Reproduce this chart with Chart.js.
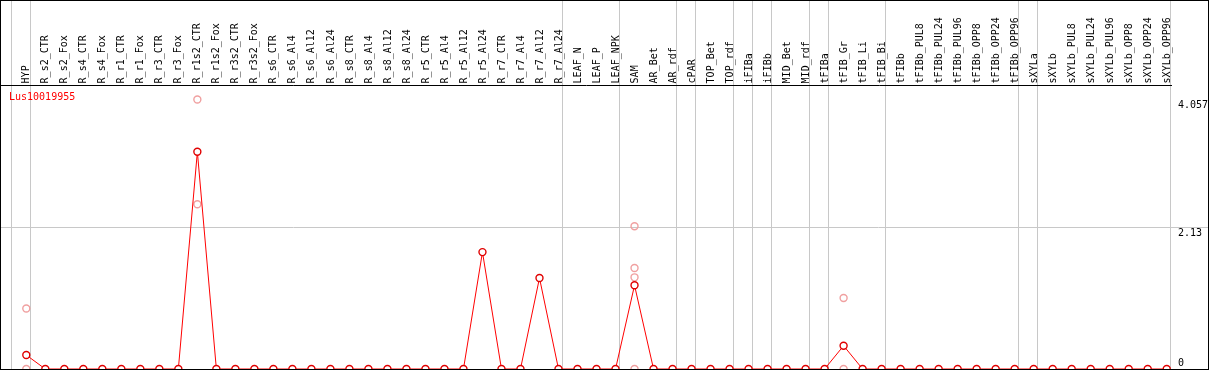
<!DOCTYPE html>
<html>
<head>
<meta charset="utf-8">
<script src="https://cdn.jsdelivr.net/npm/chart.js@4"></script>
<style>
  body { margin: 0; background: #fff; }
  #marco { width: 1209px; height: 370px; border: 1px solid #000; box-sizing: border-box; }
  canvas { display: block; }
</style>
</head>
<body>
<div id="marco"><canvas id="grafico" width="1207" height="368"></canvas></div>
<script>
// Datos del gráfico
const gen = 'Lus10019955';
const muestras = ['HYP', 'R_s2_CTR', 'R_s2_Fox', 'R_s4_CTR', 'R_s4_Fox', 'R_r1_CTR', 'R_r1_Fox', 'R_r3_CTR', 'R_r3_Fox',
    'R_r1s2_CTR', 'R_r1s2_Fox', 'R_r3s2_CTR', 'R_r3s2_Fox', 'R_s6_CTR', 'R_s6_Al4', 'R_s6_Al12', 'R_s6_Al24',
    'R_s8_CTR', 'R_s8_Al4', 'R_s8_Al12', 'R_s8_Al24', 'R_r5_CTR', 'R_r5_Al4', 'R_r5_Al12', 'R_r5_Al24',
    'R_r7_CTR', 'R_r7_Al4', 'R_r7_Al12', 'R_r7_Al24', 'LEAF_N', 'LEAF_P', 'LEAF_NPK', 'SAM', 'AR_Bet', 'AR_rdf',
    'cPAR', 'TOP_Bet', 'TOP_rdf', 'iFIBa', 'iFIBb', 'MID_Bet', 'MID_rdf', 'tFIBa', 'tFIB_Gr', 'tFIB_Li', 'tFIB_Bi',
    'tFIBb', 'tFIBb_PUL8', 'tFIBb_PUL24', 'tFIBb_PUL96', 'tFIBb_OPP8', 'tFIBb_OPP24', 'tFIBb_OPP96',
    'sXYLa', 'sXYLb', 'sXYLb_PUL8', 'sXYLb_PUL24', 'sXYLb_PUL96', 'sXYLb_OPP8', 'sXYLb_OPP24', 'sXYLb_OPP96'];

// media por muestra
const medias = [0.21, 0, 0, 0, 0, 0, 0, 0, 0,
    3.27, 0, 0, 0, 0, 0, 0, 0,
    0, 0, 0, 0, 0, 0, 0, 1.76,
    0, 0, 1.37, 0, 0, 0, 0, 1.26, 0, 0,
    0, 0, 0, 0, 0, 0, 0, 0, 0.35, 0, 0,
    0, 0, 0, 0, 0, 0, 0,
    0, 0, 0, 0, 0, 0, 0, 0];

// réplicas visibles
const repMuestra = ['HYP', 'HYP', 'R_r1s2_CTR', 'R_r1s2_CTR', 'SAM', 'SAM', 'SAM', 'SAM', 'tFIB_Gr', 'tFIB_Gr'];
const repValor = [0.91, 0, 4.057, 2.48, 2.15, 1.52, 1.38, 0, 1.07, 0];

// último índice de cada grupo (líneas verticales)
const finGrupo = [-1, 0, 28, 31, 34, 35, 37, 38, 39, 41, 42, 45, 52, 53, 60];

const ticksY = [0, 2.13, 4.057];
const etiquetasY = ['0', '2.13', '4.057'];

const xMin = -1.331, xMax = 60.225;

Chart.defaults.font.family = 'DejaVu Sans Mono';
Chart.defaults.font.size = 10;
Chart.defaults.color = '#000';

const puntosMedia = medias.map((v, i) => ({ x: i, y: v }));
const puntosRep = repValor.map((v, i) => ({ x: muestras.indexOf(repMuestra[i]), y: v }));

// sin márgenes automáticos de las etiquetas
function sinRelleno(s) {
    s.paddingLeft = 0;
    s.paddingRight = 0;
    s.paddingTop = 0;
    s.paddingBottom = 0;
}

// Texto del gen arriba a la izquierda
const tituloGen = {
    id: 'tituloGen',
    afterDraw(chart) {
        const ctx = chart.ctx;
        ctx.save();
        ctx.font = '10px "DejaVu Sans Mono"';
        ctx.fillStyle = '#ff0000';
        ctx.textBaseline = 'middle';
        ctx.fillText(gen, 8, 96);
        ctx.restore();
    }
};

new Chart(document.getElementById('grafico'), {
    type: 'line',
    data: {
        datasets: [{
            data: puntosMedia,
            borderColor: '#ff0000',
            borderWidth: 1,
            pointRadius: 3.5,
            pointBorderWidth: 1.4,
            pointBorderColor: '#e00000',
            pointBackgroundColor: '#ffffff',
            tension: 0,
            xAxisID: 'x',
            yAxisID: 'y'
        }, {
            data: puntosRep,
            showLine: false,
            pointRadius: 3.5,
            pointBorderWidth: 1.4,
            pointBorderColor: '#f0a0a0',
            pointBackgroundColor: 'rgba(255,255,255,0)',
            xAxisID: 'x',
            yAxisID: 'y'
        }]
    },
    options: {
        responsive: false,
        animation: false,
        events: [],
        layout: { padding: 0, autoPadding: false },
        plugins: { legend: { display: false }, tooltip: { enabled: false } },
        scales: {
            x: {
                type: 'linear',
                position: 'top',
                weight: 1,
                min: xMin,
                max: xMax,
                afterBuildTicks: (s) => { s.ticks = muestras.map((_, i) => ({ value: i })); },
                afterFit: (s) => { s.height = 84.4; sinRelleno(s); },
                ticks: {
                    autoSkip: false,
                    minRotation: 90,
                    maxRotation: 90,
                    padding: 2,
                    labelOffset: 12.5,
                    callback: (v) => muestras[v]
                },
                grid: { color: 'rgba(0,0,0,0)', drawTicks: false },
                border: { display: false }
            },
            xg: {
                type: 'linear',
                position: 'top',
                weight: 0,
                min: xMin,
                max: xMax,
                afterBuildTicks: (s) => { s.ticks = finGrupo.map(k => ({ value: k + 0.21 })); },
                afterFit: (s) => { s.height = 0; sinRelleno(s); },
                ticks: { display: false },
                grid: { color: '#c8c8c8', lineWidth: 1, drawTicks: true, tickLength: 86 },
                border: { display: true, color: '#000', width: 1 }
            },
            y: {
                type: 'linear',
                position: 'right',
                min: 0,
                max: 4.27,
                afterBuildTicks: (s) => { s.ticks = ticksY.map(v => ({ value: v })); },
                afterFit: (s) => { s.width = 37; sinRelleno(s); },
                ticks: {
                    padding: -30,
                    font: { lineHeight: 1.1 },
                    callback: (v) => {
                        const t = etiquetasY[ticksY.indexOf(v)];
                        return v === 0 ? [t, ''] : ['', t];
                    }
                },
                grid: {
                    color: (c) => (c.tick && c.tick.value === 2.13) ? '#c8c8c8' : 'rgba(0,0,0,0)',
                    tickLength: 37
                },
                border: { display: false }
            }
        }
    },
    plugins: [tituloGen]
});
</script>
</body>
</html>
